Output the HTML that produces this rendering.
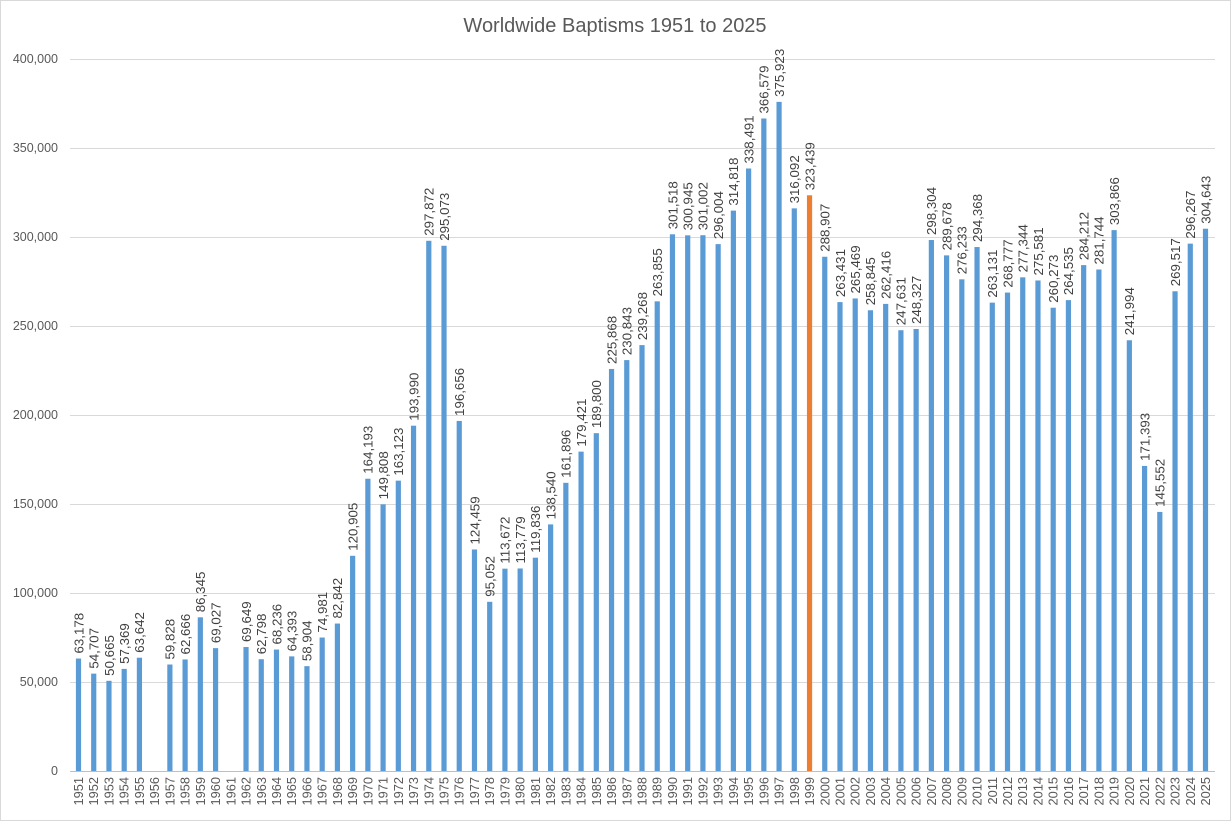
<!DOCTYPE html>
<html><head><meta charset="utf-8"><style>
html,body{margin:0;padding:0;background:#fff}
svg{display:block;font-family:"Liberation Sans",Calibri,sans-serif}
</style></head><body>
<svg id="c" width="1231" height="821" viewBox="0 0 1231 821" xmlns="http://www.w3.org/2000/svg">
<rect x="0.5" y="0.5" width="1230" height="820" fill="#fff" stroke="#d9d9d9"/>
<text x="615" y="32" text-anchor="middle" font-size="20" fill="#595959">Worldwide Baptisms 1951 to 2025</text>
</svg>
<script>
var v=[63178,54707,50665,57369,63642,null,59828,62666,86345,69027,null,69649,62798,68236,64393,58904,74981,82842,120905,164193,149808,163123,193990,297872,295073,196656,124459,95052,113672,113779,119836,138540,161896,179421,189800,225868,230843,239268,263855,301518,300945,301002,296004,314818,338491,366579,375923,316092,323439,288907,263431,265469,258845,262416,247631,248327,298304,289678,276233,294368,263131,268777,277344,275581,260273,264535,284212,281744,303866,241994,171393,145552,269517,296267,304643];
var s='',y0=771,k=89/50000;
for(var i=0;i<=8;i++){var y=y0-i*89;
s+='<line x1="70" x2="1215" y1="'+(y+0.5)+'" y2="'+(y+0.5)+'" stroke="'+(i==0?'#bfbfbf':'#d9d9d9')+'"/>';
s+='<text x="58" y="'+(y+4)+'" text-anchor="end" font-size="12.5" fill="#595959">'+(i*50000).toLocaleString('en-US')+'</text>';}
for(var j=0;j<75;j++){var cx=78.5+j*(1205.5-78.5)/74,yr=1951+j;
s+='<text transform="translate('+(cx+4.5)+',777) rotate(-90)" text-anchor="end" font-size="12.8" fill="#595959">'+yr+'</text>';
if(v[j]==null)continue;var h=v[j]*k,t=y0-h;
s+='<rect x="'+(cx-2.6)+'" y="'+t+'" width="5.2" height="'+h+'" fill="'+(yr==1999?'#ed7d31':'#5b9bd5')+'"/>';
s+='<text transform="translate('+(cx+4.8)+','+(t-5)+') rotate(-90)" font-size="13.3" fill="#404040">'+v[j].toLocaleString('en-US')+'</text>';}
document.getElementById('c').insertAdjacentHTML('beforeend',s);
</script>
</body></html>
